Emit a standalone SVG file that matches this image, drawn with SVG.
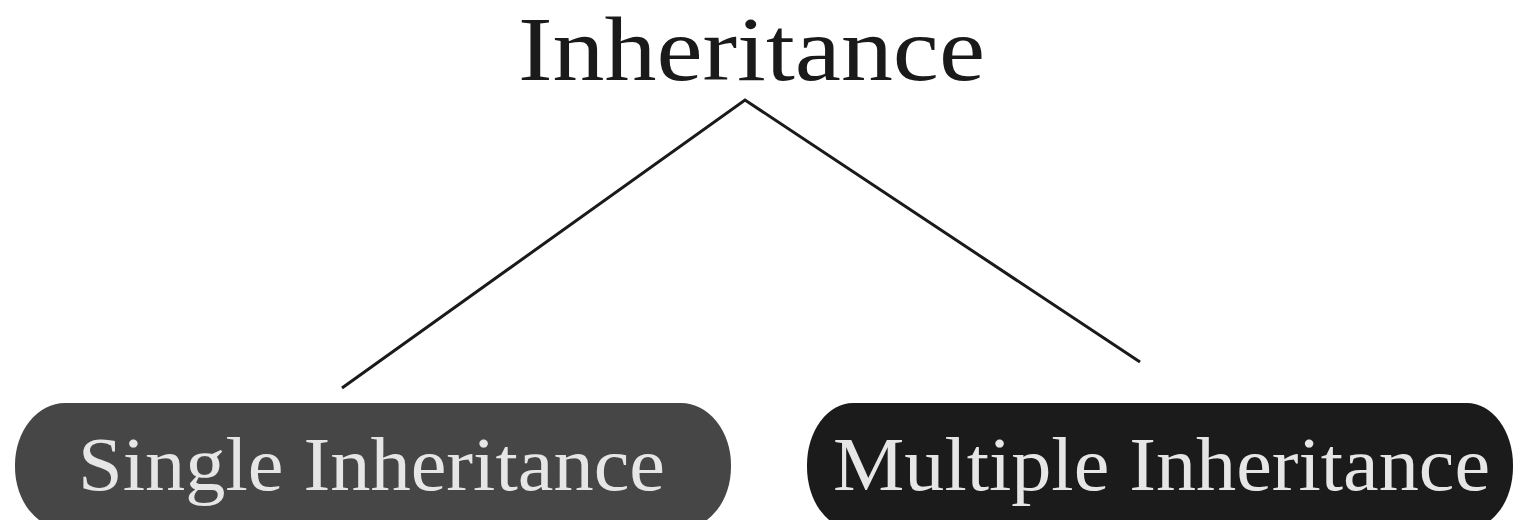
<svg xmlns="http://www.w3.org/2000/svg" width="1513" height="520" viewBox="0 0 1513 520">
<style>
.title{font-family:"Liberation Serif","DejaVu Serif",serif;font-size:92px;fill:#1a1a1a}
.lbl{font-family:"Liberation Serif","DejaVu Serif",serif;font-size:76px;fill:#e6e6e6}
.conn{stroke:#1a1a1a;stroke-width:3;fill:none}
</style>
<rect width="1513" height="520" fill="#ffffff"/>
<g id="root">
<text class="title" x="518" y="80" textLength="467" lengthAdjust="spacingAndGlyphs">Inheritance</text>
</g>
<g id="connectors">
<polyline class="conn" points="342,388 745,100 1140,362"/>
</g>
<g id="single">
<rect x="15" y="403" width="716" height="126" rx="50" ry="62" fill="#464646"/>
<text class="lbl" x="78" y="490" textLength="587" lengthAdjust="spacingAndGlyphs">Single Inheritance</text>
</g>
<g id="multiple">
<rect x="807" y="403" width="706" height="126" rx="46" ry="62" fill="#1b1b1b"/>
<text class="lbl" x="833" y="490" textLength="657" lengthAdjust="spacingAndGlyphs">Multiple Inheritance</text>
</g>
</svg>
